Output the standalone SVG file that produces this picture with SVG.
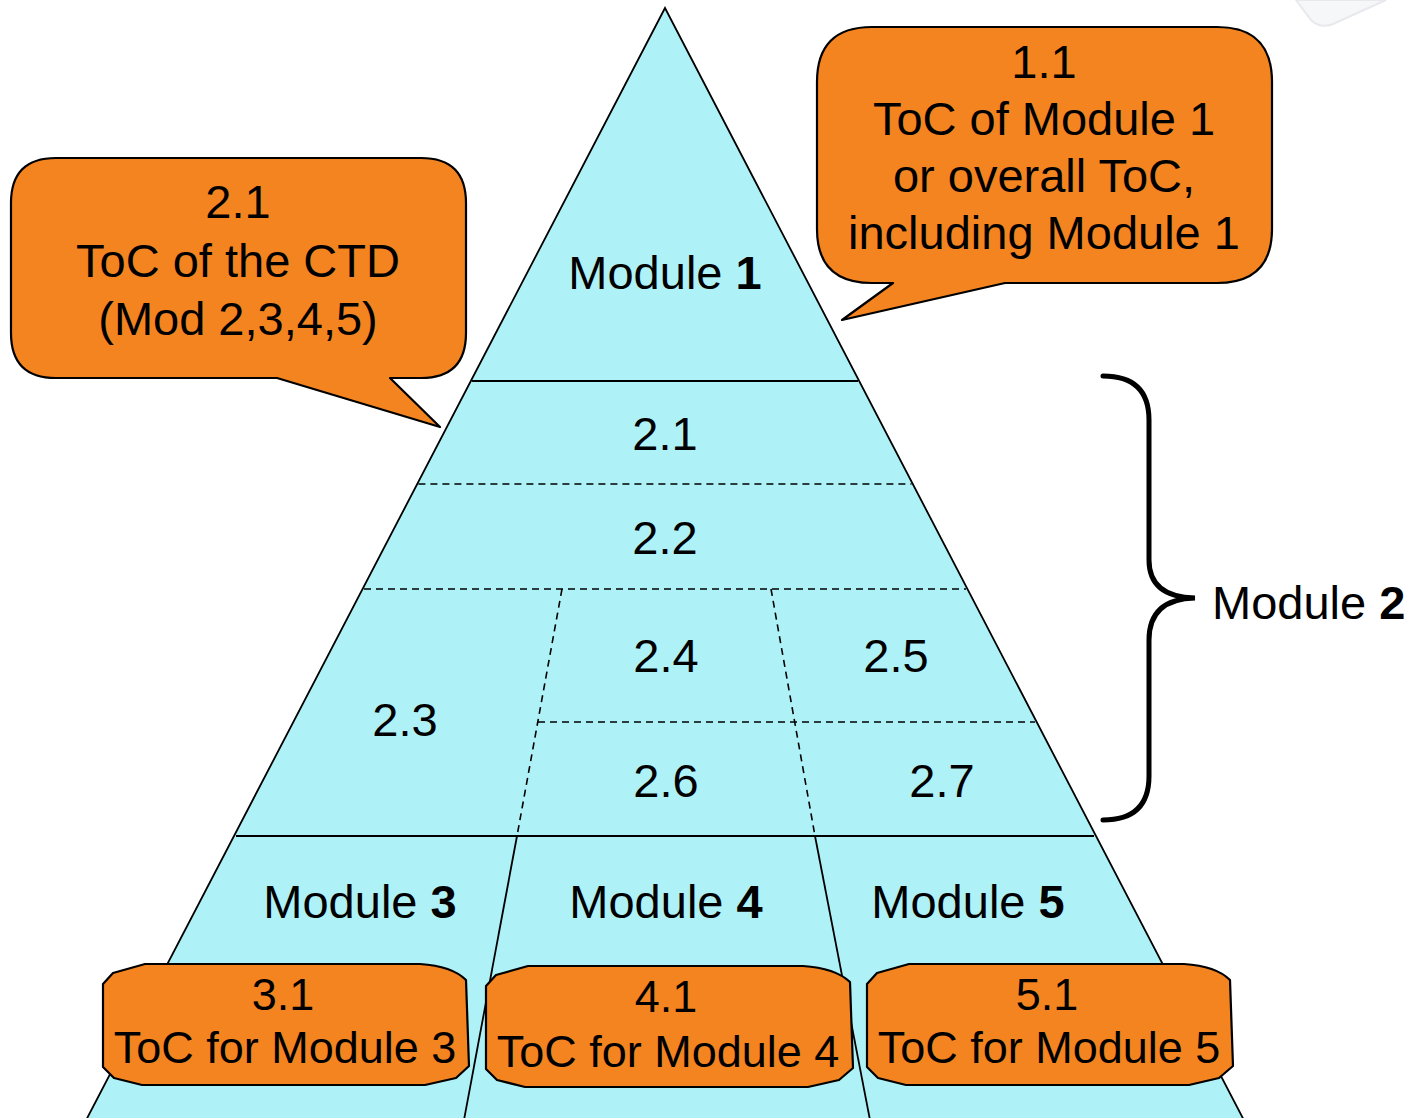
<svg xmlns="http://www.w3.org/2000/svg" width="1419" height="1118" viewBox="0 0 1419 1118">
<style>
text{font-family:"Liberation Sans",Arial,sans-serif;fill:#000;text-anchor:middle}
.t46{font-size:47px}
.t44{font-size:45px}
.solid{stroke:#000;stroke-width:1.8;fill:none}
.dash{stroke:#000;stroke-width:1.6;fill:none;stroke-dasharray:7 5}
.call{fill:#F48420;stroke:#000;stroke-width:2.2;stroke-linejoin:round}
</style>
<rect width="1419" height="1118" fill="#fff"/>
<path d="M1296,0 L1311,20 Q1320,29 1333,24 L1386,0 Z" fill="#F6F7F9" stroke="#E7E9ED" stroke-width="2"/>
<g id="pyramid">
<polygon points="665,8 82,1128 1248,1128" fill="#AEF2F8" stroke="#000" stroke-width="1.8"/>
</g>
<g id="connectors">
<line class="solid" x1="471.8" y1="381" x2="858" y2="381"/>
<line class="dash" x1="418.4" y1="484" x2="911.6" y2="484"/>
<line class="dash" x1="364" y1="589" x2="966" y2="589"/>
<line class="dash" x1="538" y1="722" x2="1035" y2="722"/>
<line class="dash" x1="562" y1="589" x2="517" y2="836"/>
<line class="dash" x1="771" y1="589" x2="815" y2="836"/>
<line class="solid" x1="236" y1="836" x2="1094" y2="836"/>
<line class="solid" x1="517" y1="836" x2="464" y2="1120"/>
<line class="solid" x1="815" y1="836" x2="870" y2="1120"/>
<path d="M1103,376 Q1149,376 1149,420 L1149,560 Q1149,597 1195,598 Q1149,599 1149,640 L1149,776 Q1149,820 1103,820" fill="none" stroke="#000" stroke-width="5" stroke-linecap="round"/>
</g>
<g id="module1"><text class="t46" x="665" y="289">Module <tspan font-weight="bold">1</tspan></text></g>
<g id="s21"><text class="t46" x="665" y="450">2.1</text></g>
<g id="s22"><text class="t46" x="665" y="554">2.2</text></g>
<g id="s23"><text class="t46" x="405" y="736">2.3</text></g>
<g id="s24"><text class="t46" x="666" y="672">2.4</text></g>
<g id="s25"><text class="t46" x="896" y="672">2.5</text></g>
<g id="s26"><text class="t46" x="666" y="797">2.6</text></g>
<g id="s27"><text class="t46" x="942" y="797">2.7</text></g>
<g id="module3"><text class="t46" x="360" y="918">Module <tspan font-weight="bold">3</tspan></text></g>
<g id="module4"><text class="t46" x="666" y="918">Module <tspan font-weight="bold">4</tspan></text></g>
<g id="module5"><text class="t46" x="968" y="918">Module <tspan font-weight="bold">5</tspan></text></g>
<g id="module2"><text class="t46" x="1212" y="619" style="text-anchor:start">Module <tspan font-weight="bold">2</tspan></text></g>
<g id="callout21">
<path class="call" d="M56,158 L421,158 Q466,158 466,203 L466,333 Q466,378 421,378 L390,378 L440,427 L277,378 L56,378 Q11,378 11,333 L11,203 Q11,158 56,158 Z"/>
<text class="t46" x="238" y="218">2.1</text>
<text class="t46" x="238" y="277">ToC of the CTD</text>
<text class="t46" x="238" y="335">(Mod 2,3,4,5)</text>
</g>
<g id="callout11">
<path class="call" d="M872,27 L1217,27 Q1272,27 1272,82 L1272,229 Q1272,283 1217,283 L1005,283 L842,320 L893,283 L872,283 Q817,283 817,229 L817,82 Q817,27 872,27 Z"/>
<text class="t46" x="1044" y="78">1.1</text>
<text class="t46" x="1044" y="135">ToC of Module 1</text>
<text class="t46" x="1044" y="192">or overall ToC,</text>
<text class="t46" x="1044" y="249">including Module 1</text>
</g>
<g id="toc3">
<path class="call" d="M103,984 L113,973 L145,964 L420,964 Q452,966 466,980 L469,1066 L456,1078 L425,1085 L142,1085 L114,1078 L103,1067 Z"/>
<text class="t44" x="283" y="1010">3.1</text>
<text class="t44" x="285" y="1063">ToC for Module 3</text>
</g>
<g id="toc4">
<path class="call" d="M486,986 L496,975 L528,966 L803,966 Q835,968 850,982 L853,1068 L839,1080 L808,1087 L525,1087 L497,1080 L486,1069 Z"/>
<text class="t44" x="666" y="1012">4.1</text>
<text class="t44" x="668" y="1067">ToC for Module 4</text>
</g>
<g id="toc5">
<path class="call" d="M867,984 L877,973 L909,964 L1184,964 Q1216,966 1230,980 L1233,1066 L1219,1078 L1189,1085 L906,1085 L878,1078 L867,1067 Z"/>
<text class="t44" x="1047" y="1010">5.1</text>
<text class="t44" x="1049" y="1063">ToC for Module 5</text>
</g>
</svg>
